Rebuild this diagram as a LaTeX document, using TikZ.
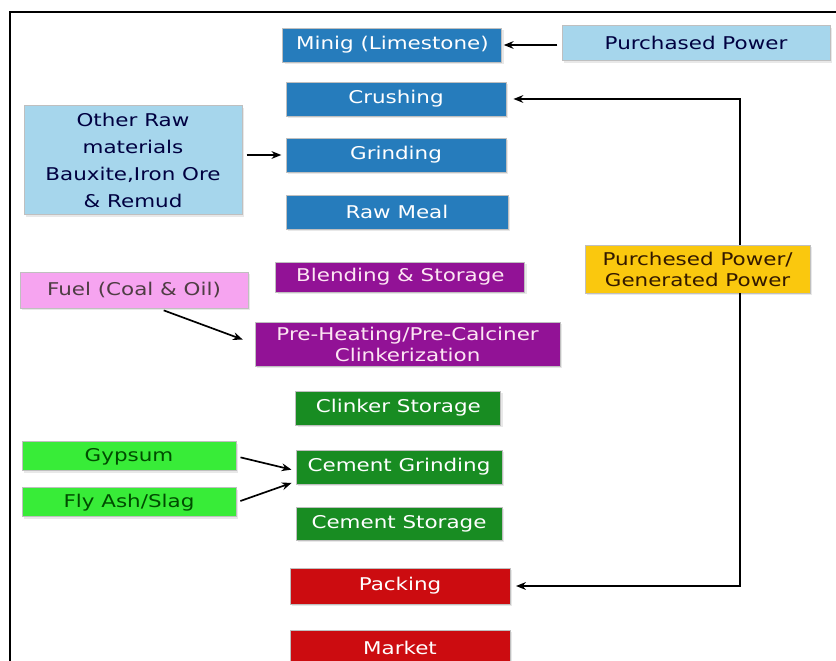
\documentclass[tikz,border=0pt]{standalone}
\usepackage{fontspec}
\setmainfont{DejaVu Sans}[FakeStretch=1.22]
\usetikzlibrary{shapes,arrows.meta,shadows}
\definecolor{procblue}{RGB}{38,124,188}
\definecolor{inblue}{RGB}{166,214,236}
\definecolor{procpurple}{RGB}{146,18,150}
\definecolor{inpink}{RGB}{246,164,240}
\definecolor{procgreen}{RGB}{24,140,34}
\definecolor{ingreen}{RGB}{56,236,56}
\definecolor{procred}{RGB}{204,12,16}
\definecolor{inyellow}{RGB}{250,200,14}
\tikzstyle{stage}=[draw=white!75!black, line width=0.6pt, text centered,
    inner sep=0pt, font=\fontsize{12.5}{15}\selectfont,
    drop shadow={opacity=0.18, shadow xshift=1.2pt, shadow yshift=-1.2pt}]
\tikzstyle{pb} = [stage, fill=procblue, text=white,
    minimum width=5.5cm, minimum height=0.85cm]
\tikzstyle{pp} = [stage, fill=procpurple, text=white!90!magenta,
    minimum width=6.2cm, minimum height=0.75cm]
\tikzstyle{pg} = [stage, fill=procgreen, text=white,
    minimum width=5.15cm, minimum height=0.85cm]
\tikzstyle{pr} = [stage, fill=procred, text=white,
    minimum width=5.5cm, minimum height=0.9cm]
\tikzstyle{inb} = [stage, fill=inblue, text=black!75!blue,
    minimum width=6.7cm, minimum height=0.875cm]
\tikzstyle{inp} = [stage, fill=inpink, text=black!80!magenta,
    minimum width=5.7cm, minimum height=0.9cm]
\tikzstyle{ing} = [stage, fill=ingreen, text=black!70!green,
    minimum width=5.35cm, minimum height=0.725cm]
\tikzstyle{iny} = [stage, fill=inyellow, text=black!80!orange,
    minimum width=5.625cm, minimum height=1.2cm]

\begin{document}
\begin{tikzpicture}[>={Stealth[length=7pt,width=5.5pt]}, line width=1.2pt]
    \useasboundingbox (0,0) rectangle (20.9,-16.525);
    \draw[line width=1.4pt] (0.25,-16.6) |- (20.95,-0.3);

    % main line
    \node (mine)[pb, minimum width=5.475cm] at (9.81,-1.125) {Minig (Limestone)};
    \path (mine)+(0.09,-1.35) node (crush)[pb] {Crushing};
    \path (crush)+(0,-1.4) node (grind)[pb] {Grinding};
    \path (grind)+(0.025,-1.435) node (rawmeal)[pb, minimum width=5.55cm] {Raw Meal};
    \path (rawmeal)+(0.085,-1.615) node (blend)[pp, minimum width=6.225cm] {Blending \& Storage};
    \path (blend)+(0.18,-1.675) node (preheat)[pp, minimum width=7.625cm, minimum height=1.1cm,
        align=center] {Pre-Heating/Pre-Calciner\\Clinkerization};
    \path (preheat)+(-0.23,-1.6) node (clinker)[pg, minimum width=5.125cm] {Clinker Storage};
    \path (clinker)+(0.015,-1.475) node (cgrind)[pg] {Cement Grinding};
    \path (cgrind)+(0,-1.415) node (cstore)[pg, minimum height=0.825cm] {Cement Storage};
    \path (cstore)+(0.025,-1.56) node (packing)[pr] {Packing};
    \path (packing)+(0,-1.55) node (market)[pr] {Market};

    % inputs
    \path (mine)+(7.59,0.04) node (power1)[inb] {Purchased Power};
    \path (power1)+(0.04,-5.64) node (power2)[iny, align=center]
        {Purchesed Power/\\Generated Power};
    \path (grind)+(-6.575,-0.135) node (other)[inb, minimum width=5.45cm,
        minimum height=2.725cm, align=center, font=\fontsize{12.5}{19}\selectfont]
        {Other Raw\\materials\\Bauxite,Iron Ore\\\& Remud};
    \path (blend)+(-6.66,-0.325) node (fuel)[inp] {Fuel (Coal \& Oil)};
    \path (cgrind)+(-6.75,0.265) node (gypsum)[ing] {Gypsum};
    \path (gypsum)+(0,-1.15) node (flyash)[ing] {Fly Ash/Slag};

    %%% arrows
    \path (power2.north)+(1.06,0) coordinate (pn);
    \path (power2.south)+(1.06,0) coordinate (ps);

    \path [draw, ->, shorten <=3pt, shorten >=1pt] (power1.west |- mine.east) -- (mine.east) {};
    \path [draw, ->, shorten <=3pt, shorten >=3pt] (other.east |- grind.west) -- (grind.west) {};
    \path [draw, ->, shorten <=4pt, shorten >=9pt] (fuel.-37) -- (preheat.west) {};
    \path [draw, ->, shorten <=3pt, shorten >=3pt] (gypsum.east) -- (cgrind.182) {};
    \path [draw, ->, shorten <=3pt, shorten >=3pt] (flyash.east) -- (cgrind.188) {};
    \path [draw, ->, shorten >=5pt] (pn) |- (crush.east) {};
    \path [draw, ->, shorten >=4pt] (ps) |- (packing.east) {};

\end{tikzpicture}
\end{document}
